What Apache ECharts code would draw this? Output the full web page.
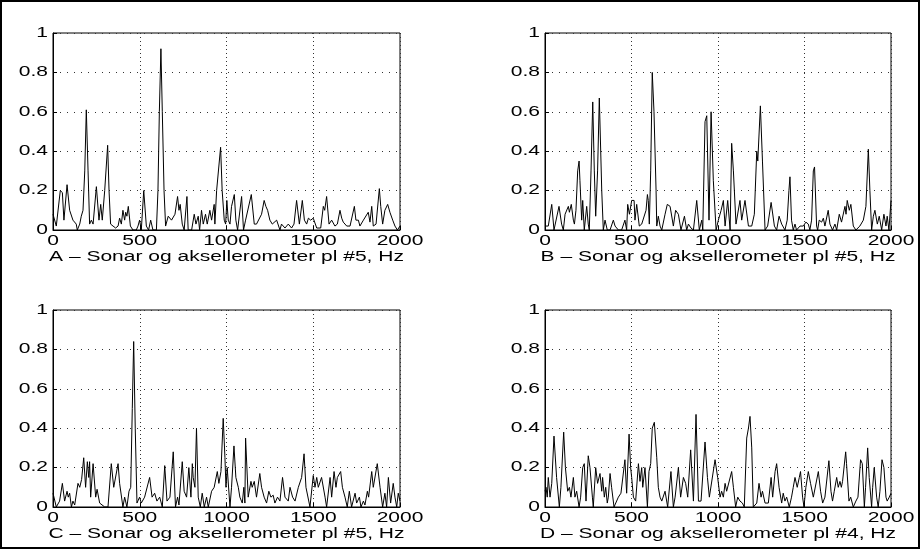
<!DOCTYPE html>
<html>
<head>
<meta charset="utf-8">
<script src="https://cdn.jsdelivr.net/npm/echarts@6/dist/echarts.min.js"></script>
<style>
html,body{margin:0;padding:0;background:#fff;}
#c{width:921px;height:550px;}
</style>
</head>
<body>
<div id="c"></div>
<script>
// ---- data (frequency in Hz, normalised amplitude) ----
const titles = [
  "A – Sonar og aksellerometer pl #5, Hz",
  "B – Sonar og aksellerometer pl #5, Hz",
  "C – Sonar og aksellerometer pl #5, Hz",
  "D – Sonar og aksellerometer pl #4, Hz"
];
const xTicks = [0, 500, 1000, 1500, 2000];
const yTicks = [0, 0.2, 0.4, 0.6, 0.8, 1];
const yTickLabels = ["0", "0.2", "0.4", "0.6", "0.8", "1"];

const freqA = [0,10,19,42,54,63,81,96,115,134,140,154,163,173,183,192,202,211,221,231,250,265,275,284,298,315,323,332,346,361,375,384,394,403,413,419,426,434,446,461,480,490,499,509,523,538,551,563,576,596,605,613,622,630,640,649,664,683,703,718,726,733,745,756,772,779,799,814,824,837,845,856,866,879,889,904,914,929,933,943,966,975,987,995,1002,1010,1020,1029,1045,1054,1064,1087,1098,1110,1143,1160,1173,1202,1217,1227,1237,1250,1264,1289,1308,1317,1337,1356,1375,1389,1404,1420,1437,1449,1462,1472,1485,1500,1510,1520,1543,1558,1566,1577,1591,1606,1625,1639,1654,1664,1673,1683,1693,1712,1737,1746,1760,1769,1789,1817,1827,1837,1846,1862,1881,1889,1900,1913,1929,1942,1958,1971,1985,2000];
const ampA  = [0.08,0.08,0.02,0.2,0.19,0.05,0.23,0.1,0.05,0.03,0.0,0.03,0.07,0.1,0.3,0.61,0.3,0.03,0.05,0.03,0.22,0.05,0.13,0.05,0.2,0.43,0.2,0.03,0.02,0.01,0.02,0.06,0.03,0.1,0.05,0.09,0.07,0.12,0.02,0.0,0.0,0.02,0.05,0.0,0.2,0.02,0.0,0.05,0.0,0.0,0.2,0.6,0.92,0.6,0.2,0.02,0.07,0.05,0.08,0.17,0.1,0.13,0.03,0.0,0.17,0.0,0.0,0.08,0.03,0.07,0.0,0.1,0.03,0.08,0.03,0.1,0.05,0.13,0.03,0.2,0.42,0.2,0.05,0.03,0.15,0.05,0.03,0.12,0.18,0.05,0.0,0.17,0.0,0.05,0.18,0.03,0.03,0.08,0.15,0.12,0.1,0.05,0.03,0.05,0.0,0.03,0.01,0.03,0.01,0.03,0.15,0.03,0.15,0.05,0.03,0.06,0.05,0.06,0.05,0.01,0.01,0.12,0.1,0.17,0.03,0.05,0.02,0.03,0.1,0.06,0.04,0.05,0.02,0.02,0.12,0.05,0.05,0.02,0.05,0.09,0.04,0.12,0.02,0.03,0.21,0.12,0.03,0.1,0.13,0.09,0.05,0.02,0.0,0.02];

const freqB = [0,10,19,39,52,62,81,96,106,116,125,135,141,152,164,170,179,189,197,202,212,218,227,241,250,256,266,276,285,293,304,314,328,337,347,360,376,395,405,414,424,443,462,472,478,488,501,515,520,530,545,559,568,584,592,597,603,611,620,630,642,646,655,665,675,694,707,723,742,755,771,786,806,819,829,844,858,877,892,906,912,925,935,948,960,973,989,1002,1018,1031,1041,1056,1070,1079,1089,1104,1127,1137,1156,1176,1195,1210,1224,1230,1245,1257,1272,1287,1307,1326,1339,1353,1368,1387,1400,1410,1416,1425,1435,1445,1454,1474,1493,1508,1522,1531,1541,1551,1558,1570,1576,1585,1599,1609,1618,1637,1647,1662,1676,1686,1701,1714,1734,1740,1747,1759,1768,1782,1797,1820,1840,1855,1869,1878,1888,1898,1907,1921,1932,1946,1959,1971,1978,1988,2000];
const ampB  = [0.02,0.03,0.02,0.13,0.0,0.0,0.12,0.03,0.0,0.08,0.07,0.12,0.09,0.13,0.05,0.03,0.1,0.3,0.35,0.25,0.05,0.15,0.0,0.12,0.03,0.0,0.3,0.65,0.3,0.07,0.3,0.67,0.2,0.0,0.05,0.0,0.0,0.05,0.02,0.03,0.0,0.0,0.05,0.0,0.13,0.08,0.15,0.15,0.05,0.13,0.02,0.03,0.03,0.1,0.18,0.15,0.03,0.3,0.8,0.6,0.2,0.02,0.07,0.02,0.0,0.08,0.13,0.12,0.02,0.1,0.08,0.0,0.07,0.0,0.03,0.01,0.0,0.15,0.0,0.05,0.0,0.55,0.58,0.05,0.6,0.25,0.0,0.05,0.1,0.15,0.02,0.15,0.0,0.44,0.3,0.03,0.15,0.05,0.15,0.02,0.02,0.08,0.4,0.35,0.63,0.35,0.0,0.02,0.14,0.02,0.0,0.07,0.03,0.0,0.05,0.2,0.27,0.05,0.0,0.03,0.0,0.02,0.02,0.04,0.03,0.0,0.05,0.3,0.32,0.02,0.0,0.05,0.04,0.06,0.02,0.1,0.03,0.0,0.03,0.0,0.08,0.04,0.12,0.08,0.15,0.1,0.13,0.02,0.0,0.02,0.05,0.12,0.41,0.2,0.0,0.07,0.1,0.03,0.07,0.0,0.08,0.02,0.07,0.0,0.15];

const freqC = [0,19,38,54,67,81,88,96,106,115,125,144,154,165,177,188,198,206,211,217,231,246,254,269,279,298,317,336,350,375,384,403,413,426,438,448,457,465,474,484,499,509,528,538,557,571,586,599,615,630,644,657,674,693,706,718,726,745,756,770,783,795,803,808,818,827,837,849,860,872,885,895,914,929,947,956,968,981,991,997,1004,1020,1029,1043,1054,1068,1077,1091,1100,1106,1110,1125,1141,1148,1160,1173,1192,1202,1217,1231,1244,1256,1269,1279,1294,1308,1323,1337,1356,1366,1381,1395,1414,1433,1447,1458,1481,1500,1510,1520,1529,1548,1568,1577,1597,1606,1620,1631,1639,1658,1668,1683,1696,1708,1721,1741,1750,1766,1775,1789,1798,1812,1819,1837,1846,1869,1885,1900,1913,1923,1933,1946,1961,1971,1981,1990,2000];
const ampC  = [0.07,0.0,0.03,0.12,0.03,0.08,0.05,0.07,0.0,0.03,0.01,0.12,0.1,0.14,0.25,0.1,0.23,0.15,0.23,0.05,0.22,0.05,0.09,0.02,0.03,0.0,0.0,0.22,0.1,0.22,0.12,0.0,0.05,0.0,0.08,0.1,0.5,0.84,0.4,0.02,0.05,0.02,0.05,0.04,0.15,0.05,0.07,0.03,0.05,0.0,0.21,0.03,0.05,0.28,0.0,0.05,0.01,0.23,0.08,0.05,0.2,0.05,0.22,0.15,0.1,0.4,0.05,0.0,0.07,0.0,0.05,0.0,0.08,0.1,0.18,0.12,0.18,0.45,0.25,0.1,0.2,0.0,0.1,0.31,0.15,0.1,0.05,0.02,0.1,0.02,0.35,0.05,0.13,0.1,0.13,0.05,0.17,0.1,0.05,0.02,0.08,0.05,0.06,0.02,0.05,0.03,0.15,0.05,0.03,0.1,0.05,0.03,0.1,0.15,0.27,0.1,0.0,0.16,0.1,0.15,0.1,0.15,0.05,0.0,0.15,0.05,0.18,0.1,0.15,0.18,0.1,0.05,0.0,0.08,0.0,0.07,0.02,0.05,0.0,0.03,0.01,0.08,0.05,0.18,0.1,0.22,0.1,0.0,0.07,0.0,0.15,0.02,0.12,0.05,0.0,0.07,0.03];

const freqD = [0,6,13,19,29,39,52,60,67,83,92,108,118,131,141,150,164,173,183,197,206,218,227,237,250,260,274,279,293,304,318,328,333,343,351,360,366,376,385,399,410,424,439,449,462,472,486,495,501,511,524,540,549,559,565,578,592,601,611,620,632,646,655,665,675,694,709,728,742,752,771,784,800,813,825,842,858,873,887,902,925,939,950,960,983,998,1012,1021,1031,1041,1050,1079,1089,1102,1114,1127,1141,1152,1166,1176,1185,1195,1204,1224,1237,1249,1257,1272,1291,1307,1316,1330,1339,1353,1368,1377,1387,1397,1412,1425,1435,1445,1458,1470,1477,1489,1497,1508,1522,1535,1551,1580,1593,1605,1618,1641,1653,1662,1672,1686,1695,1705,1713,1720,1738,1743,1757,1767,1782,1797,1809,1824,1834,1846,1853,1865,1874,1888,1894,1903,1917,1926,1936,1948,1959,1971,1978,1990,2000];
const ampD  = [0.08,0.1,0.05,0.15,0.05,0.12,0.36,0.37,0.15,0.0,0.1,0.38,0.2,0.08,0.1,0.05,0.15,0.05,0.08,0.0,0.05,0.2,0.22,0.03,0.26,0.2,0.05,0.0,0.2,0.12,0.17,0.08,0.15,0.05,0.1,0.02,0.05,0.17,0.1,0.0,0.0,0.05,0.07,0.08,0.24,0.07,0.37,0.2,0.15,0.05,0.03,0.22,0.13,0.2,0.1,0.2,0.0,0.18,0.22,0.4,0.43,0.25,0.1,0.05,0.03,0.08,0.0,0.18,0.0,0.05,0.2,0.05,0.15,0.12,0.05,0.29,0.03,0.47,0.03,0.03,0.33,0.15,0.05,0.05,0.24,0.15,0.05,0.08,0.05,0.12,0.08,0.18,0.1,0.0,0.05,0.03,0.02,0.0,0.35,0.4,0.46,0.3,0.0,0.02,0.12,0.05,0.08,0.02,0.02,0.15,0.05,0.18,0.22,0.1,0.02,0.07,0.03,0.05,0.0,0.05,0.1,0.15,0.1,0.15,0.18,0.05,0.0,0.1,0.18,0.12,0.05,0.18,0.08,0.02,0.05,0.235,0.08,0.03,0.08,0.15,0.1,0.13,0.1,0.13,0.28,0.22,0.03,0.05,0.0,0.03,0.05,0.24,0.22,0.0,0.1,0.3,0.15,0.0,0.1,0.2,0.05,0.0,0.08,0.24,0.2,0.05,0.03,0.05,0.07];

const freqs = [freqA, freqB, freqC, freqD];
const amps  = [ampA, ampB, ampC, ampD];

// ---- layout / style ----
const FONT = "Liberation Sans, Arial, Helvetica, sans-serif";
const FS = 14;
const STRETCH = 1.5;   // reference text is horizontally stretched
const grids = [
  {left: 53,  top: 33,  width: 347, height: 197},
  {left: 545, top: 33,  width: 346, height: 197},
  {left: 53,  top: 310, width: 347, height: 197},
  {left: 545, top: 310, width: 346, height: 197}
];

const chart = echarts.init(document.getElementById('c'), null, {renderer: 'canvas'});
const gridOpts = [], xAxes = [], yAxes = [], series = [];
grids.forEach((g, i) => {
  gridOpts.push(Object.assign({show: true, borderColor: '#000', borderWidth: 1, backgroundColor: '#fff', containLabel: false}, g));
  xAxes.push({
    gridIndex: i, type: 'value', min: xTicks[0], max: xTicks[xTicks.length - 1], interval: xTicks[1] - xTicks[0],
    axisLine: {show: true, lineStyle: {color: '#000', width: 1}},
    axisTick: {show: true, inside: true, length: 4, lineStyle: {color: '#000'}},
    axisLabel: {show: false},
    splitLine: {show: true, lineStyle: {color: '#333', type: [1, 3], width: 1}}
  });
  yAxes.push({
    gridIndex: i, type: 'value', min: yTicks[0], max: yTicks[yTicks.length - 1], interval: yTicks[1] - yTicks[0],
    axisLine: {show: true, lineStyle: {color: '#000', width: 1}},
    axisTick: {show: true, inside: true, length: 4, lineStyle: {color: '#000'}},
    axisLabel: {show: false},
    splitLine: {show: true, lineStyle: {color: '#333', type: [1, 6], width: 1}}
  });
  series.push({
    type: 'line', xAxisIndex: i, yAxisIndex: i,
    data: freqs[i].map((f, k) => [f, amps[i][k]]),
    showSymbol: false, symbol: 'none', smooth: false,
    lineStyle: {color: '#000', width: 1}, silent: true
  });
});

chart.setOption({
  animation: false,
  backgroundColor: '#fff',
  grid: gridOpts,
  xAxis: xAxes,
  yAxis: yAxes,
  series: series
});

// tick labels and axis titles as (horizontally stretched) text, placed through the axes' own scales
const texts = [];
function label(x, y, text, align) {
  texts.push({
    type: 'text', x: x, y: y, scaleX: STRETCH, scaleY: 1, silent: true, z: 50,
    style: {x: 0, y: 0, text: text, fill: '#000', font: FS + 'px ' + FONT, align: align, verticalAlign: 'middle'}
  });
}
grids.forEach((g, i) => {
  const finder = {gridIndex: i};
  xTicks.forEach(v => {
    const p = chart.convertToPixel(finder, [v, 0]);
    label(p[0], p[1] + 11, String(v), 'center');
  });
  yTicks.forEach((v, k) => {
    const p = chart.convertToPixel(finder, [0, v]);
    label(p[0] - 5, p[1], yTickLabels[k], 'right');
  });
  const a = chart.convertToPixel(finder, [xTicks[0], 0]);
  const b = chart.convertToPixel(finder, [xTicks[xTicks.length - 1], 0]);
  label((a[0] + b[0]) / 2, a[1] + 27, titles[i], 'center');
});
texts.push({
  type: 'rect', shape: {x: 1, y: 1, width: 918, height: 547},
  style: {fill: null, stroke: '#000', lineWidth: 2}, silent: true, z: 100
});
chart.setOption({graphic: texts});
</script>
</body>
</html>
